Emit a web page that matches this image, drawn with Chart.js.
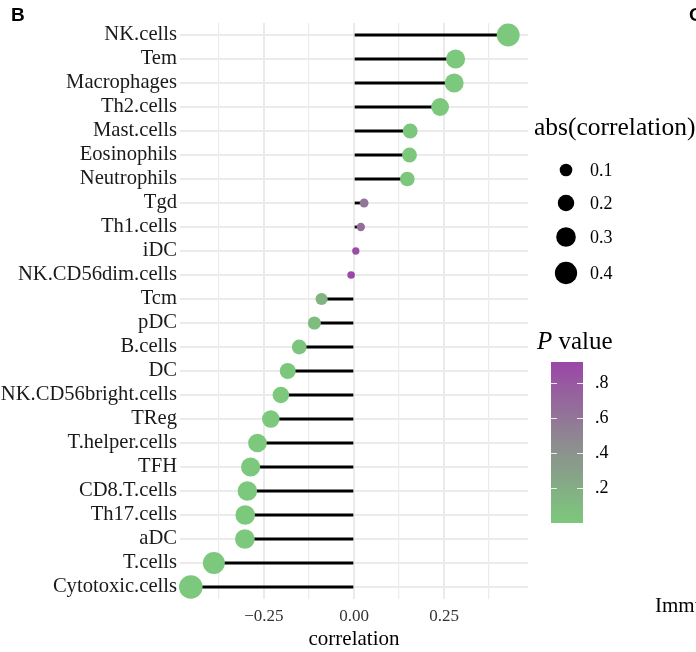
<!DOCTYPE html>
<html>
<head>
<meta charset="utf-8">
<script src="https://cdn.jsdelivr.net/npm/chart.js@4.4.1/dist/chart.umd.min.js"></script>
<style>
  html, body { margin: 0; padding: 0; background: #fff; }
  canvas { display: block; }
</style>
</head>
<body>
<canvas id="lollipop" width="696" height="652"></canvas>
<script>
// cell types, top to bottom as in the figure
const cellTypes = [
    'NK.cells', 'Tem', 'Macrophages', 'Th2.cells', 'Mast.cells', 'Eosinophils',
    'Neutrophils', 'Tgd', 'Th1.cells', 'iDC', 'NK.CD56dim.cells', 'Tcm', 'pDC',
    'B.cells', 'DC', 'NK.CD56bright.cells', 'TReg', 'T.helper.cells', 'TFH',
    'CD8.T.cells', 'Th17.cells', 'aDC', 'T.cells', 'Cytotoxic.cells'
];
const correlation = [
    0.428, 0.282, 0.278, 0.239, 0.156, 0.154,
    0.148, 0.028, 0.019, 0.005, -0.008, -0.090, -0.110,
    -0.152, -0.184, -0.203, -0.231, -0.268, -0.287,
    -0.296, -0.302, -0.303, -0.389, -0.453
];
const pValues = [
    0.000, 0.000, 0.000, 0.000, 0.004, 0.005,
    0.006, 0.60, 0.66, 0.88, 0.92, 0.15, 0.08,
    0.02, 0.005, 0.002, 0.001, 0.000, 0.000,
    0.000, 0.000, 0.000, 0.000, 0.000
];
const xTicks = [-0.375, -0.25, -0.125, 0, 0.125, 0.25, 0.375];
const xLabelTicks = [-0.25, 0, 0.25];
const sizeBreaks = [0.1, 0.2, 0.3, 0.4];
const pBreaks = [0.2, 0.4, 0.6, 0.8];

const serif = "'Liberation Serif', 'DejaVu Serif', serif";
const lowCol = [124, 200, 124];
const midCol = [142, 139, 144];
const highCol = [155, 70, 168];
const pMax = 0.92;

function pColor(p) {
    let t = Math.max(0, Math.min(1, p / pMax));
    let a, b, u;
    if (t < 0.5) { a = lowCol; b = midCol; u = t * 2; }
    else { a = midCol; b = highCol; u = (t - 0.5) * 2; }
    const c = a.map((v, i) => Math.round(v + (b[i] - v) * u));
    return 'rgb(' + c.join(',') + ')';
}

function pointSize(v) {
    return Math.sqrt(12 + 280 * v);
}

// legends on the right side and the neighbour panel letters
const sideLegends = {
    id: 'sideLegends',
    afterDraw(chart) {
        const ctx = chart.ctx;
        ctx.save();
        ctx.fillStyle = '#000';
        ctx.textBaseline = 'middle';

        // size legend
        ctx.font = '25.5px ' + serif;
        ctx.textAlign = 'left';
        ctx.fillText('abs(correlation)', 534, 128);
        const sizeY = [170, 203, 237, 273];
        ctx.font = '18px ' + serif;
        sizeBreaks.forEach((b, i) => {
            ctx.beginPath();
            ctx.arc(566, sizeY[i], pointSize(b), 0, Math.PI * 2);
            ctx.fill();
            ctx.fillText(b.toFixed(1), 590, sizeY[i] + 1);
        });

        // P value colour bar
        ctx.font = 'italic 25px ' + serif;
        ctx.fillText('P', 537, 342);
        const pw = ctx.measureText('P ').width;
        ctx.font = '25px ' + serif;
        ctx.fillText('value', 537 + pw, 342);

        const barTop = 362, barBottom = 523, barL = 551, barR = 583;
        const grad = ctx.createLinearGradient(0, barBottom, 0, barTop);
        for (let k = 0; k <= 10; k++) {
            grad.addColorStop(k / 10, pColor(pMax * k / 10));
        }
        ctx.fillStyle = grad;
        ctx.fillRect(barL, barTop, barR - barL, barBottom - barTop);
        const pxPer = (barBottom - barTop) / pMax;
        ctx.strokeStyle = 'rgba(255,255,255,0.85)';
        ctx.lineWidth = 1;
        ctx.fillStyle = '#000';
        ctx.font = '18px ' + serif;
        pBreaks.forEach(b => {
            const y = Math.round(barBottom - b * pxPer) + 0.5;
            ctx.beginPath();
            ctx.moveTo(barL, y); ctx.lineTo(barL + 6, y);
            ctx.moveTo(barR - 6, y); ctx.lineTo(barR, y);
            ctx.stroke();
            ctx.fillText(b.toFixed(1).replace('0.', '.'), 595, y);
        });

        // panel letters
        ctx.font = "bold 19px 'Liberation Sans', Arial, sans-serif";
        ctx.fillText('B', 11, 16);
        ctx.fillText('C', 689, 16);
        ctx.font = '21px ' + serif;
        ctx.fillText('Immune', 655, 606);
        ctx.restore();
    }
};

const ctxLolli = document.getElementById('lollipop').getContext('2d');
new Chart(ctxLolli, {
    type: 'bar',
    data: {
        labels: cellTypes,
        datasets: [{
            type: 'line',
            label: 'correlation',
            data: correlation,
            indexAxis: 'y',
            showLine: false,
            order: 0,
            clip: false,
            pointRadius: (c) => pointSize(Math.abs(correlation[c.dataIndex])),
            pointHoverRadius: (c) => pointSize(Math.abs(correlation[c.dataIndex])),
            pointBackgroundColor: (c) => pColor(pValues[c.dataIndex]),
            pointBorderWidth: 0
        }, {
            type: 'bar',
            label: 'stick',
            data: correlation,
            indexAxis: 'y',
            order: 1,
            backgroundColor: '#000',
            barThickness: 2.2
        }]
    },
    options: {
        indexAxis: 'y',
        responsive: false,
        animation: false,
        devicePixelRatio: 1,
        layout: { padding: { top: 23, right: 168, bottom: 0, left: 0 } },
        scales: {
            x: {
                type: 'linear',
                min: -0.483,
                max: 0.483,
                afterFit: (s) => { s.height = 53; },
                afterBuildTicks: (s) => { s.ticks = xTicks.map(v => ({ value: v })); },
                border: { display: false },
                grid: {
                    drawTicks: false,
                    color: '#EBEBEB',
                    lineWidth: (c) => xLabelTicks.includes(c.tick ? c.tick.value : NaN) ? 2 : 1.2
                },
                ticks: {
                    autoSkip: false,
                    maxRotation: 0,
                    padding: 7,
                    color: '#333',
                    font: { family: serif, size: 17 },
                    callback: (v) => xLabelTicks.includes(v) ? v.toFixed(2).replace('-', '\u2212') : ''
                },
                title: {
                    display: true,
                    text: 'correlation',
                    color: '#000',
                    font: { family: serif, size: 21 },
                    padding: { top: 0, bottom: 0 }
                }
            },
            y: {
                type: 'category',
                offset: true,
                afterFit: (s) => { s.width = 180; },
                border: { display: false },
                grid: { offset: false, drawTicks: false, color: '#EBEBEB', lineWidth: 2 },
                ticks: {
                    autoSkip: false,
                    padding: 3,
                    color: '#1a1a1a',
                    font: { family: serif, size: 20.6 }
                }
            }
        },
        plugins: {
            legend: { display: false },
            tooltip: { enabled: false },
            title: { display: false }
        }
    },
    plugins: [sideLegends]
});
</script>
</body>
</html>
